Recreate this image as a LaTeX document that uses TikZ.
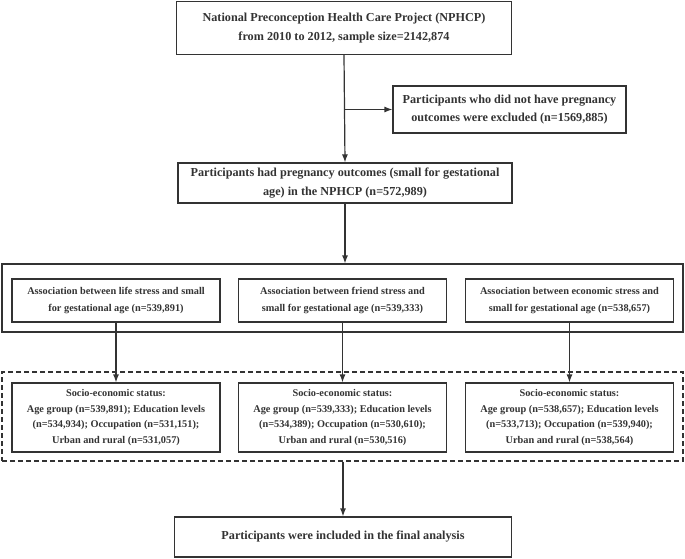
\documentclass[tikz,border=0pt]{standalone}
\usepackage{fontspec}
\setmainfont{Liberation Serif}
\usetikzlibrary{arrows.meta}
\definecolor{ink}{HTML}{333333}
\tikzset{
  box/.style={draw=ink, line width=1.2pt, text=ink, font=\bfseries\fontsize{12.2}{18.5}\selectfont, align=center, inner sep=0pt},
  smallbox/.style={box, font=\bfseries\fontsize{10.3}{16.3}\selectfont},
  sesbox/.style={box, font=\bfseries\fontsize{10.3}{15.8}\selectfont},
  frame/.style={draw=ink, line width=1.2pt, inner sep=0pt},
  arr/.style={draw=ink, line width=1.2pt, -{Latex[length=8pt,width=6pt]}},
}
\begin{document}
\begin{tikzpicture}[x=1pt,y=-1pt]
\useasboundingbox (0,0) rectangle (685,559);
\node[box, minimum width=335pt, minimum height=53pt] (top) at (344,28) {National Preconception Health Care Project (NPHCP)\\from 2010 to 2012, sample size=2142,874};
\node[box, minimum width=233pt, minimum height=47pt] (excl) at (509.5,109.5) {Participants who did not have pregnancy\\outcomes were excluded (n=1569,885)};
\node[box, minimum width=334pt, minimum height=40pt] (preg) at (345,183) {Participants had pregnancy outcomes (small for gestational\\age) in the NPHCP (n=572,989)};
\node[frame, minimum width=681pt, minimum height=68pt] (big) at (342.5,298) {};
\node[smallbox, minimum width=208pt, minimum height=43pt] (a1) at (116,300.5) {Association between life stress and small\\for gestational age (n=539,891)};
\node[smallbox, minimum width=208pt, minimum height=43pt] (a2) at (342.5,300.5) {Association between friend stress and\\small for gestational age (n=539,333)};
\node[smallbox, minimum width=208pt, minimum height=43pt] (a3) at (569.5,300.5) {Association between economic stress and\\small for gestational age (n=538,657)};
\node[frame, dashed, dash pattern=on 5pt off 3pt, minimum width=681pt, minimum height=89pt] (dash) at (342.5,416.5) {};
\node[sesbox, minimum width=208pt, minimum height=69pt] (s1) at (116,417.5) {Socio-economic status:\\Age group (n=539,891); Education levels\\(n=534,934); Occupation (n=531,151);\\Urban and rural (n=531,057)};
\node[sesbox, minimum width=208pt, minimum height=69pt] (s2) at (342.5,417.5) {Socio-economic status:\\Age group (n=539,333); Education levels\\(n=534,389); Occupation (n=530,610);\\Urban and rural (n=530,516)};
\node[sesbox, minimum width=208pt, minimum height=69pt] (s3) at (569.5,417.5) {Socio-economic status:\\Age group (n=538,657); Education levels\\(n=533,713); Occupation (n=539,940);\\Urban and rural (n=538,564)};
\node[box, minimum width=337pt, minimum height=40pt] (final) at (343,537) {Participants were included in the final analysis};
\coordinate (br) at (top.south |- excl.west);
\draw[arr] (top.south) -- (preg.north);
\draw[arr] (br) -- (excl.west);
\draw[arr] (preg.south) -- (preg.south |- big.north);
\draw[arr] (a1.south) -- (s1.north);
\draw[arr] (a2.south) -- (s2.north);
\draw[arr] (a3.south) -- (s3.north);
\draw[arr] (final.north |- dash.south) -- (final.north);
\end{tikzpicture}
\end{document}
